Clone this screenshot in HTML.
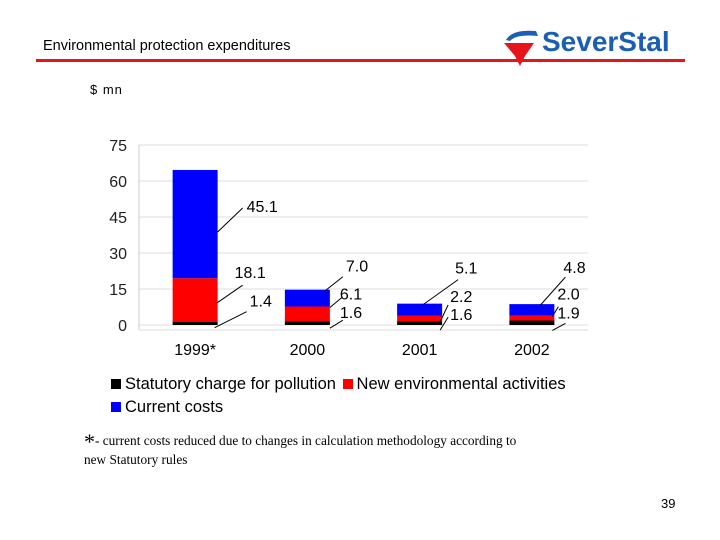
<!DOCTYPE html>
<html><head><meta charset="utf-8"><style>
body{margin:0;width:720px;height:540px;background:#fff;position:relative;overflow:hidden;font-family:"Liberation Sans",sans-serif}
.a{position:absolute}
.sq{display:inline-block;width:10px;height:10px;vertical-align:0px}
</style></head><body>
<div class="a" style="left:43px;top:38px;font-size:14.5px;color:#000">Environmental protection expenditures</div>
<div class="a" style="left:36px;top:59px;width:649px;height:3px;background:#e8141c"></div>
<div class="a" style="left:500px;top:24px;width:190px;height:44px">
<svg width="190" height="44"><path d="M6 16 Q12 5 36 7 L38 12 Q16 10 10 17 Z" fill="#1a5fb4"/><path d="M4 19 L34 19 L25 32 L20 42 L15 32 Z" fill="#e8141c"/>
<text x="42" y="27" font-family="Liberation Sans" font-weight="bold" font-size="28" fill="#1a5fb4">SeverStal</text></svg></div>
<div class="a" style="left:90px;top:82px;font-size:13px;letter-spacing:1px">$ mn</div>
<svg class="a" style="left:0;top:0" width="720" height="540" id="chart"></svg>
<div class="a" style="left:111px;top:373px;font-size:16.5px;line-height:23px;white-space:nowrap">
<div><span class="sq" style="background:#000;margin-right:4px"></span>Statutory charge for pollution <span class="sq" style="background:#f00;margin:0 4px 0 2px"></span>New environmental activities</div>
<div><span class="sq" style="background:#00f;margin-right:4px"></span>Current costs</div></div>
<div class="a" style="left:84px;top:432px;font-family:'Liberation Serif',serif;font-size:13.3px;line-height:18px;width:462px"><span style="font-size:22px;vertical-align:-4px">*</span>- current costs reduced due to changes in calculation methodology according to<br>new Statutory rules</div>
<div class="a" style="left:661px;top:496px;font-size:13px">39</div>
<script>
const categories=["1999*","2000","2001","2002"];
const statutory=[1.4,1.6,1.6,1.9];
const newActivities=[18.1,6.1,2.2,2.0];
const currentCosts=[45.1,7.0,5.1,4.8];
const yTicks=[0,15,30,45,60,75];
// label layout offsets (relative to bar right edge / segment top) [series][category] = [tx,ty,sx,sy,ex,ey]
const labelLayout=[
 [[32,-15,-3,6,29,-10],[10,-3,0,7,13,-1],[8,-1,-2,9,6,-4],[3,-2,-2,10,11,3]],
 [[17,0,-1,25,25,7],[10,-7,0,1,12,-9],[8,-14,-2,6,6,-11],[3,-16,-2,1,4,-9]],
 [[29,42,0,62,25,38],[16,-18,-6,2,13,-13],[13,-30,-19,1,16,-24],[9,-31,-14,1,11,-27]]
];
const svg=document.getElementById('chart');const NS="http://www.w3.org/2000/svg";
const x0=139,x1=588,yb=325,yt=145,ymax=75;
const y=v=>yb-(v/ymax)*(yb-yt);
const band=(x1-x0)/categories.length;
function el(t,a,txt){const e=document.createElementNS(NS,t);for(const k in a)e.setAttribute(k,a[k]);if(txt!=null)e.textContent=txt;svg.appendChild(e);return e;}
yTicks.forEach(t=>{const g=el('line',{x1:x0,x2:x1,y1:y(t),y2:y(t),stroke:'#ddd'});

const l=el('text',{x:127,y:y(t)+6,'text-anchor':'end','font-size':16,fill:'#222','font-family':'Liberation Sans'},t);
});
el('line',{x1:x0,x2:x0,y1:yt,y2:yb+5,stroke:'#ccc'});
el('line',{x1:x0,x2:x1,y1:yb+5,y2:yb+5,stroke:'#ddd'});
const series=[[statutory,'#000'],[newActivities,'#f00'],[currentCosts,'#00f']];
categories.forEach((c,i)=>{const cx=x0+band*(i+0.5),bw=45,br=cx+bw/2;let acc=0;
series.forEach(([arr,col],s)=>{const v=arr[i];const top=y(acc+v);
const r=el('rect',{x:cx-bw/2,y:top,width:bw,height:y(acc)-top,fill:col});

const L=labelLayout[s][i];
const ln=el('line',{x1:br+L[2],y1:top+L[3],x2:br+L[4],y2:top+L[5],stroke:'#000'});

const t=el('text',{x:br+L[0],y:top+L[1],'font-size':16,fill:'#000','font-family':'Liberation Sans'},v.toFixed(1));

acc+=v;});
const xl=el('text',{x:cx,y:355,'text-anchor':'middle','font-size':16,fill:'#000','font-family':'Liberation Sans'},c);
});
</script>
</body></html>
